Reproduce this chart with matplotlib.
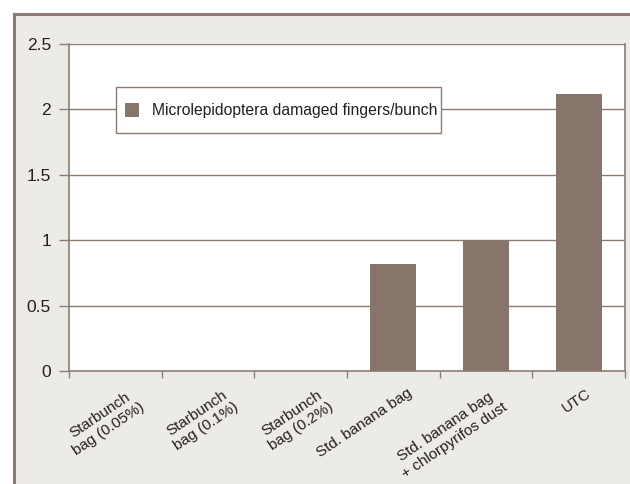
import matplotlib
matplotlib.use("Agg")
import matplotlib.pyplot as plt
import matplotlib.transforms as mtransforms
from matplotlib.lines import Line2D
from matplotlib.patches import Rectangle

categories = ["Starbunch\nbag (0.05%)", "Starbunch\nbag (0.1%)", "Starbunch\nbag (0.2%)",
              "Std. banana bag", "Std. banana bag\n+ chlorpyrifos dust", "UTC"]
values = [0, 0, 0, 0.82, 1.0, 2.12]
series_name = "Microlepidoptera damaged fingers/bunch"
yticks = [0, 0.5, 1, 1.5, 2, 2.5]
ytick_labels = ["0", "0.5", "1", "1.5", "2", "2.5"]

# layout only: horizontal nudge (pixels) of each rotated category label
label_dx = [15, 16, 18, 13, 7, 7]

plt.rcParams['font.family'] = ["Liberation Sans", "DejaVu Sans"]

bar_color = "#87746a"
line_color = "#8c7c74"
bg = "#edebe8"
text_color = "#231f20"

fig = plt.figure(figsize=(6.3, 4.84), dpi=100)
fig.patch.set_facecolor("white")
W, H = 630, 484
# outer panel
fig.patches.append(Rectangle((14 / W, 0), 1 - 14 / W, 1 - 14 / H, transform=fig.transFigure,
                             facecolor=bg, edgecolor="none", zorder=-10))
fig.lines.append(Line2D([14 / W, 14 / W], [0, 1 - 14 / H], transform=fig.transFigure,
                        color=line_color, lw=2.2, zorder=-9))
fig.lines.append(Line2D([14 / W, 1], [1 - 14 / H, 1 - 14 / H], transform=fig.transFigure,
                        color=line_color, lw=2.2, zorder=-9))

AX_L, AX_R, AX_T, AX_B = 69, 625, 44, 371
ax = fig.add_axes([AX_L / W, 1 - AX_B / H, (AX_R - AX_L) / W, (AX_B - AX_T) / H])
ax.set_zorder(5)
ax.set_facecolor("white")
x = list(range(len(categories)))
bars = ax.bar(x, values, width=0.5, color=bar_color, zorder=3, label=series_name)
ax.set_xlim(-0.5, len(categories) - 0.5)
ax.set_ylim(0, 2.5)
ax.set_yticks(yticks)
ax.set_yticklabels(ytick_labels, fontsize=12.5, color=text_color)
for yv in yticks[1:]:
    ax.axhline(yv, color=line_color, lw=1.0, zorder=1)

ax.set_xticks([i - 0.5 for i in range(len(categories) + 1)])
ax.set_xticklabels([])
ax.set_xticks(x, minor=True)
ax.set_xticklabels(categories, minor=True, rotation=34, ha="right", va="top",
                   rotation_mode="anchor", fontsize=11, color=text_color, multialignment="center")
ax.tick_params(axis="x", which="minor", length=0, pad=11)
ax.tick_params(axis="x", which="major", length=5, color=line_color, width=1)
ax.tick_params(axis="y", length=7, color=line_color, width=1, pad=6)
for lbl, dx in zip(ax.get_xticklabels(minor=True), label_dx):
    lbl.set_transform(lbl.get_transform() + mtransforms.ScaledTranslation(dx / 100, 0, fig.dpi_scale_trans))

for s in ["left", "bottom", "right"]:
    ax.spines[s].set_color(line_color)
    ax.spines[s].set_linewidth(1.2)
ax.spines["top"].set_visible(False)

# legend drawn by hand (pixel layout converted to axes fractions)
def ax_xy(px, py):
    return (px - AX_L) / (AX_R - AX_L), (AX_B - py) / (AX_B - AX_T)

def ax_wh(pw, ph):
    return pw / (AX_R - AX_L), ph / (AX_B - AX_T)

bx, by = ax_xy(116, 133)
bw, bh = ax_wh(441 - 116, 133 - 87)
ax.add_patch(Rectangle((bx, by), bw, bh, transform=ax.transAxes, facecolor="white",
                       edgecolor=line_color, lw=1.0, zorder=6))
mx, my = ax_xy(125, 117)
mw, mh = ax_wh(14, 14)
ax.add_patch(Rectangle((mx, my), mw, mh, transform=ax.transAxes, facecolor=bar_color,
                       edgecolor="none", zorder=7))
tx, ty = ax_xy(152, 110)
ax.text(tx, ty, bars.get_label(), transform=ax.transAxes, ha="left", va="center",
        fontsize=11.3, color=text_color, zorder=7)

fig.savefig("out.png", dpi=100, facecolor=fig.get_facecolor())
